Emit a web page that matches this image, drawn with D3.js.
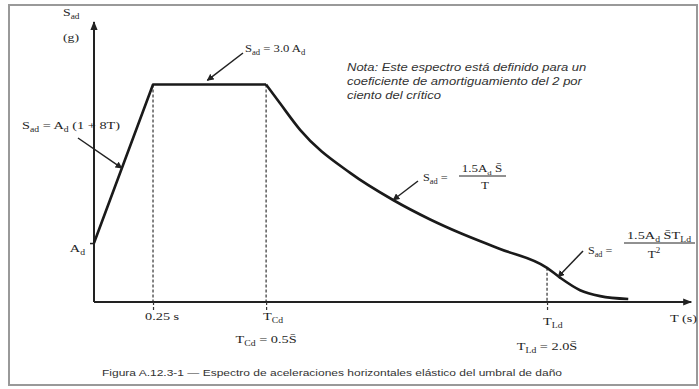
<!DOCTYPE html>
<meta charset="utf-8">
<script src="https://d3js.org/d3.v7.min.js"></script>
<style>
  body { margin: 0; background: #fff; }
  .serif { font-family: "Liberation Serif", "Times New Roman", serif; fill: #1e1e1e; }
</style>
<div class="canvas"></div>

<script>
    const width = 699
    const height = 389

    // period (horizontal, schematic units) and S_ad (in units of A_d) of the spectrum curve
    const rampT = [0, 0.25, 0.729]
    const rampS = [1.0, 3.69, 3.69]
    const decayT = [0.729, 0.788, 0.873, 1.085, 1.267, 1.424, 1.551, 1.72, 1.919, 1.975, 2.059, 2.144, 2.263]
    const decayS = [3.69, 3.37, 2.92, 2.19, 1.73, 1.4, 1.17, 0.9, 0.58, 0.41, 0.2, 0.1, 0.05]

    // marked periods on the T axis
    const tickT = [0.25, 0.729, 1.919]
    const tickNames = ["0.25 s", "T_Cd", "T_Ld"]
    const tickDefs = ["", "T_Cd = 0.5S̄", "T_Ld = 2.0S̄"]
    const adValue = 1.0

    const noteLines = [
        "Nota: Este espectro está definido para un",
        "coeficiente de amortiguamiento del 2 por",
        "ciento del crítico"
    ]
    const caption = "Figura A.12.3-1 — Espectro de aceleraciones horizontales elástico del umbral de daño"

    const svg = d3.select(".canvas")
                .append("svg")
                .attr("width", width)
                .attr("height", height)

    const defs = svg.append("defs")
    defs.append("marker")
        .attr("id", "head")
        .attr("viewBox", "0 0 10 10")
        .attr("refX", 9).attr("refY", 5)
        .attr("markerWidth", 7).attr("markerHeight", 7)
        .attr("markerUnits", "userSpaceOnUse")
        .attr("orient", "auto")
        .append("path").attr("d", "M0,0 L10,5 L0,10 Z").attr("fill", "#222")
    defs.append("marker")
        .attr("id", "axhead")
        .attr("viewBox", "0 0 10 10")
        .attr("refX", 9).attr("refY", 5)
        .attr("markerWidth", 9).attr("markerHeight", 9)
        .attr("markerUnits", "userSpaceOnUse")
        .attr("orient", "auto")
        .append("path").attr("d", "M0,1 L10,5 L0,9 Z").attr("fill", "#222")

    // frame
    svg.append("rect")
        .attr("x", 9).attr("y", 5)
        .attr("width", 688).attr("height", 380)
        .attr("fill", "none")
        .attr("stroke", "#999")
        .attr("stroke-width", 2)

    const x = d3.scaleLinear().domain([0, 2.55]).range([94, 696])
    const y = d3.scaleLinear().domain([0, 4.8]).range([302, 19])

    // rich text helper: "_" marks a subscript run; sx stretches the text sideways like the scan
    function rich(g, px, py, str, size, anchor, sx) {
        const t = g.append("g")
            .attr("transform", `translate(${px},${py}) scale(${sx || 1},1)`)
            .append("text")
            .attr("class", "serif")
            .attr("font-size", size)
            .attr("text-anchor", anchor || "start")
        const parts = str.split(/(_[A-Za-z]+)/).filter(s => s.length)
        let shift = 0
        parts.forEach(p => {
            const sub = p[0] === "_"
            const dy = (sub ? size * 0.28 : 0) - shift
            t.append("tspan")
                .attr("dy", dy)
                .attr("font-size", sub ? size * 0.68 : size)
                .text(sub ? p.slice(1) : p)
            shift += dy
        })
        return t
    }

    // dashed guides
    const guides = svg.append("g")
    tickT.forEach(t => {
        const top = t <= 0.729 ? 3.69 : decayS[decayT.indexOf(t)]
        guides.append("line")
            .attr("x1", x(t)).attr("x2", x(t))
            .attr("y1", y(top)).attr("y2", y(0))
            .attr("stroke", "#333")
            .attr("stroke-width", 1.2)
            .attr("stroke-dasharray", "3,2")
    })

    // axes
    const gX = svg.append("g").attr("transform", `translate(0,${y(0)})`)
    gX.call(d3.axisBottom(x).tickValues(tickT).tickSize(8).tickSizeOuter(0).tickFormat(""))
    gX.select(".domain")
        .attr("stroke", "#222").attr("stroke-width", 2)
        .attr("d", `M${x(0)},0H${x(2.53)}`)
        .attr("marker-end", "url(#axhead)")
    gX.selectAll(".tick line")
        .attr("stroke", "#333").attr("stroke-width", 1.2).attr("stroke-dasharray", "3,2")

    const gY = svg.append("g").attr("transform", `translate(${x(0)},0)`)
    gY.call(d3.axisLeft(y).tickValues([adValue]).tickSize(4).tickSizeOuter(0).tickFormat(""))
    gY.select(".domain")
        .attr("stroke", "#222").attr("stroke-width", 2)
        .attr("d", `M0,${y(0)}V${y(4.75)}`)
        .attr("marker-end", "url(#axhead)")
    gY.selectAll(".tick line").attr("stroke", "#222").attr("stroke-width", 1.5)

    // spectrum curve
    const line = d3.line().x(d => x(d[0])).y(d => y(d[1]))
    svg.append("path")
        .datum(rampT.map((t, i) => [t, rampS[i]]))
        .attr("d", line.curve(d3.curveLinear))
        .attr("fill", "none").attr("stroke", "#1a1a1a").attr("stroke-width", 2.6)
        .attr("stroke-linejoin", "round")
    svg.append("path")
        .datum(decayT.map((t, i) => [t, decayS[i]]))
        .attr("d", line.curve(d3.curveMonotoneX))
        .attr("fill", "none").attr("stroke", "#1a1a1a").attr("stroke-width", 2.6)

    // axis titles and tick labels
    const lab = svg.append("g")
    rich(lab, 63, 16, "S_ad", 11, "start", 1.25)
    rich(lab, 63, 41, "(g)", 11, "start", 1.25)
    rich(lab, 670, 322, "T (s)", 11, "start", 1.3)
    rich(lab, 85, 252, "A_d", 11, "end", 1.3)

    const tickOffsets = [[-8, 320, 0], [-3, 320, 343], [-4, 325, 350]]
    tickT.forEach((t, i) => {
        rich(lab, x(t) + tickOffsets[i][0], tickOffsets[i][1], tickNames[i], 11, "start", 1.3)
        if (tickDefs[i]) rich(lab, x(t), tickOffsets[i][2], tickDefs[i], 11, "middle", 1.3)
    })

    // formula call-outs
    function arrow(x1, y1, x2, y2) {
        svg.append("line")
            .attr("x1", x1).attr("y1", y1).attr("x2", x2).attr("y2", y2)
            .attr("stroke", "#222").attr("stroke-width", 1.5)
            .attr("marker-end", "url(#head)")
    }
    function bar(x1, x2, yy) {
        svg.append("line")
            .attr("x1", x1).attr("x2", x2)
            .attr("y1", yy).attr("y2", yy)
            .attr("stroke", "#222").attr("stroke-width", 1)
    }

    rich(lab, 22, 129, "S_ad = A_d (1 + 8T)", 11, "start", 1.3)
    arrow(78, 138, x(0.118), y(1 + (3.69 - 1) * 0.118 / 0.25))

    rich(lab, 245, 52, "S_ad = 3.0 A_d", 11, "start", 1.15)
    arrow(243, 53, x(0.48), y(3.69) - 4)

    rich(lab, 423, 181, "S_ad =", 11, "start", 1.12)
    rich(lab, 482, 172, "1.5A_d S̄", 10, "middle", 1.3)
    bar(459, 506, 176)
    rich(lab, 485, 189, "T", 10, "middle", 1.3)
    arrow(418, 181, x(1.267), y(1.73))

    rich(lab, 588, 254, "S_ad =", 11, "start", 1.1)
    rich(lab, 659, 239, "1.5A_d S̄T_Ld", 11, "middle", 1.3)
    bar(624, 695, 243)
    const den = rich(lab, 654, 258, "T", 11, "middle", 1.2)
    den.append("tspan").attr("dy", -5).attr("font-size", 7.5).text("2")
    arrow(583, 251, 558, 277)

    // note
    const note = svg.append("g")
        .style("font-family", "'Liberation Sans', Arial, sans-serif")
        .style("font-style", "italic")
        .style("font-size", "10.5px")
        .attr("fill", "#333")
    noteLines.forEach((s, i) => {
        note.append("g")
            .attr("transform", `translate(347,${71 + i * 14}) scale(1.24,1)`)
            .append("text").text(s)
    })

    // caption
    svg.append("text")
        .attr("x", 102).attr("y", 376)
        .attr("textLength", 460)
        .attr("lengthAdjust", "spacingAndGlyphs")
        .style("font-family", "'Liberation Sans', Arial, sans-serif")
        .style("font-size", "9.5px")
        .attr("fill", "#333")
        .text(caption)
</script>
